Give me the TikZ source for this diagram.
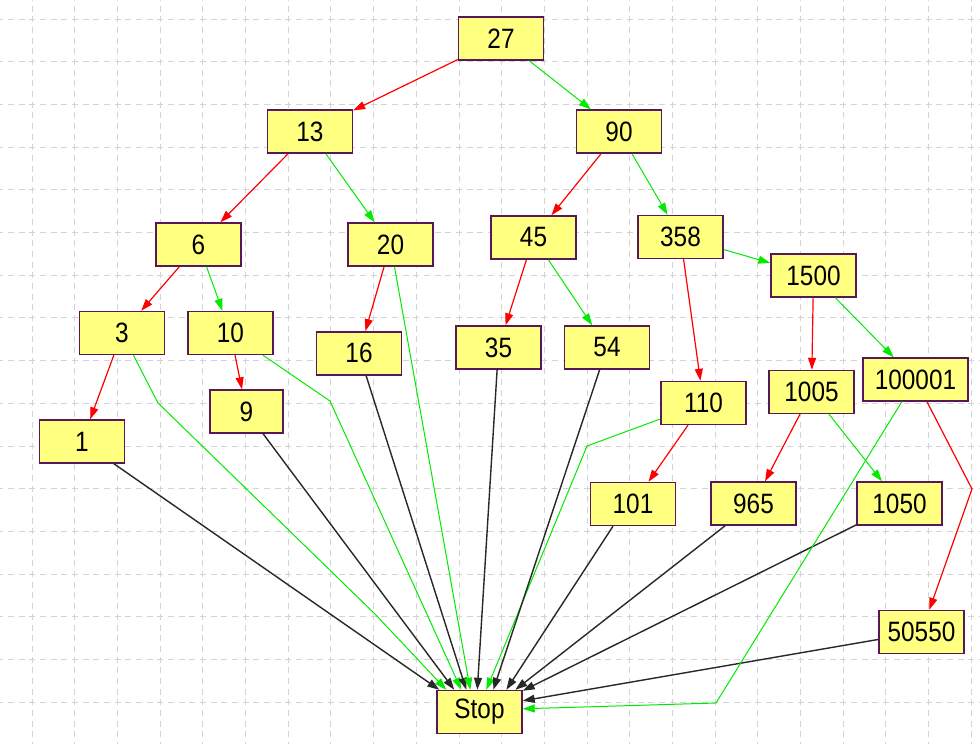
\documentclass[tikz,border=0pt]{standalone}
\usepackage{fontspec}
\newfontfamily\boxfont[FakeStretch=0.87]{Liberation Sans}
\usetikzlibrary{arrows.meta}
\definecolor{boxfill}{RGB}{255,255,128}
\definecolor{boxline}{RGB}{88,24,88}
\definecolor{gridcol}{RGB}{212,212,212}
\definecolor{edgered}{RGB}{255,0,0}
\definecolor{edgegreen}{RGB}{0,235,0}
\definecolor{edgeblack}{RGB}{40,40,40}
\tikzset{
  box/.style={draw=boxline, fill=boxfill, line width=1.4pt, minimum width=85pt,
    minimum height=43pt, inner sep=0pt, font=\boxfont\fontsize{28}{28}\selectfont},
  gridline/.style={draw=gridcol, line width=1pt, dash pattern=on 6pt off 4.67pt},
  tip/.style={-{Triangle[length=12pt,width=8pt]}},
  redE/.style={draw=edgered, line width=1.2pt, tip},
  greenE/.style={draw=edgegreen, line width=1pt, tip},
  blackE/.style={draw=edgeblack, line width=1.4pt, tip},
}
\begin{document}
\begin{tikzpicture}[x=1pt,y=-1pt]
\useasboundingbox (0,0) rectangle (980,744);
\fill[white] (0,0) rectangle (980,744);
% grid
\foreach \i in {0,...,22} \draw[gridline] ({32.3+42.67*\i},-5.03) -- ({32.3+42.67*\i},760);
\foreach \j in {0,...,17} \draw[gridline] (-2.7,{19.3+42.67*\j}) -- (990,{19.3+42.67*\j});
% nodes
\node[box] (n27) at (501,38.5) {27};
\node[box] (n13) at (310,131.5) {13};
\node[box] (n90) at (619,131.5) {90};
\node[box] (n6) at (198.5,244.5) {6};
\node[box] (n20) at (390.5,244.5) {20};
\node[box] (n45) at (533.5,237.5) {45};
\node[box] (n358) at (680.5,237) {358};
\node[box] (n1500) at (813.5,275.5) {1500};
\node[box] (n3) at (122,333) {3};
\node[box] (n10) at (230.5,333) {10};
\node[box] (n16) at (359,353.3) {16};
\node[box] (n35) at (498.5,347.5) {35};
\node[box] (n54) at (607,347.5) {54};
\node[box, minimum width=73pt] (n9) at (246.5,411.5) {9};
\node[box] (n1) at (82,441.5) {1};
\node[box] (n110) at (703.5,403) {110};
\node[box] (n1005) at (811.5,392) {1005};
\node[box, minimum width=105pt] (n100001) at (915.5,379.5) {100001};
\node[box] (n101) at (633,504) {101};
\node[box] (n965) at (753.5,503.5) {965};
\node[box] (n1050) at (899.5,503.5) {1050};
\node[box] (n50550) at (921.5,632) {50550};
\node[box] (stop) at (479.5,712) {Stop};
% bend points
\coordinate (b3a) at (158,403);
\coordinate (b3b) at (375,614);
\coordinate (b10) at (330,401);
\coordinate (b110) at (587,446);
\coordinate (bbig) at (716,703);
\coordinate (bred) at (972,489);
% arrival points on Stop
\coordinate (s1) at ([xshift=3pt]stop.north west);
\coordinate (s3) at ([xshift=10pt]stop.north west);
\coordinate (s9) at ([xshift=18pt]stop.north west);
\coordinate (s10) at ([xshift=25pt]stop.north west);
\coordinate (s16) at ([xshift=30pt]stop.north west);
\coordinate (s20) at ([xshift=34pt]stop.north west);
\coordinate (s35) at ([xshift=41pt]stop.north west);
\coordinate (s110) at ([xshift=50pt]stop.north west);
\coordinate (s54) at ([xshift=57pt]stop.north west);
\coordinate (s101) at ([xshift=70pt]stop.north west);
\coordinate (s965) at ([xshift=79pt]stop.north west);
\coordinate (s1050) at ([yshift=-1pt]stop.north east);
\coordinate (s50550) at ([yshift=-11pt]stop.north east);
\coordinate (sbig) at ([yshift=-19pt]stop.north east);
\coordinate (o101) at ([xshift=-20pt]n101.south);
% tree edges
\draw[redE] (n27) -- (n13);
\draw[greenE] (n27) -- (n90);
\draw[redE] (n13) -- (n6);
\draw[greenE] (n13) -- (n20);
\draw[redE] (n6) -- (n3);
\draw[greenE] (n6) -- (n10);
\draw[redE] (n3) -- (n1);
\draw[redE] (n10) -- (n9);
\draw[redE] (n20) -- (n16);
\draw[redE] (n90) -- (n45);
\draw[greenE] (n90) -- (n358);
\draw[redE] (n45) -- (n35);
\draw[greenE] (n45) -- (n54);
\draw[redE] (n358) -- (n110);
\draw[greenE] (n358) -- (n1500);
\draw[redE] (n1500) -- (n1005);
\draw[greenE] (n1500) -- (n100001);
\draw[redE] (n110) -- (n101);
\draw[redE] (n1005) -- (n965);
\draw[greenE] (n1005) -- (n1050);
\draw[redE] (n100001) -- (bred) -- (n50550);
% edges to Stop
\draw[blackE] (n1) -- (s1);
\draw[greenE] (n3) -- (b3a) -- (b3b) -- (s3);
\draw[blackE] (n9) -- (s9);
\draw[greenE] (n10) -- (b10) -- (s10);
\draw[blackE] (n16) -- (s16);
\draw[greenE] (n20) -- (s20);
\draw[blackE] (n35) -- (s35);
\draw[greenE] (n110) -- (b110) -- (s110);
\draw[blackE] (n54) -- (s54);
\draw[blackE] (o101) -- (s101);
\draw[blackE] (n965) -- (s965);
\draw[blackE] (n1050) -- (s1050);
\draw[blackE] (n50550) -- (s50550);
\draw[greenE] (n100001) -- (bbig) -- (sbig);
\end{tikzpicture}
\end{document}
